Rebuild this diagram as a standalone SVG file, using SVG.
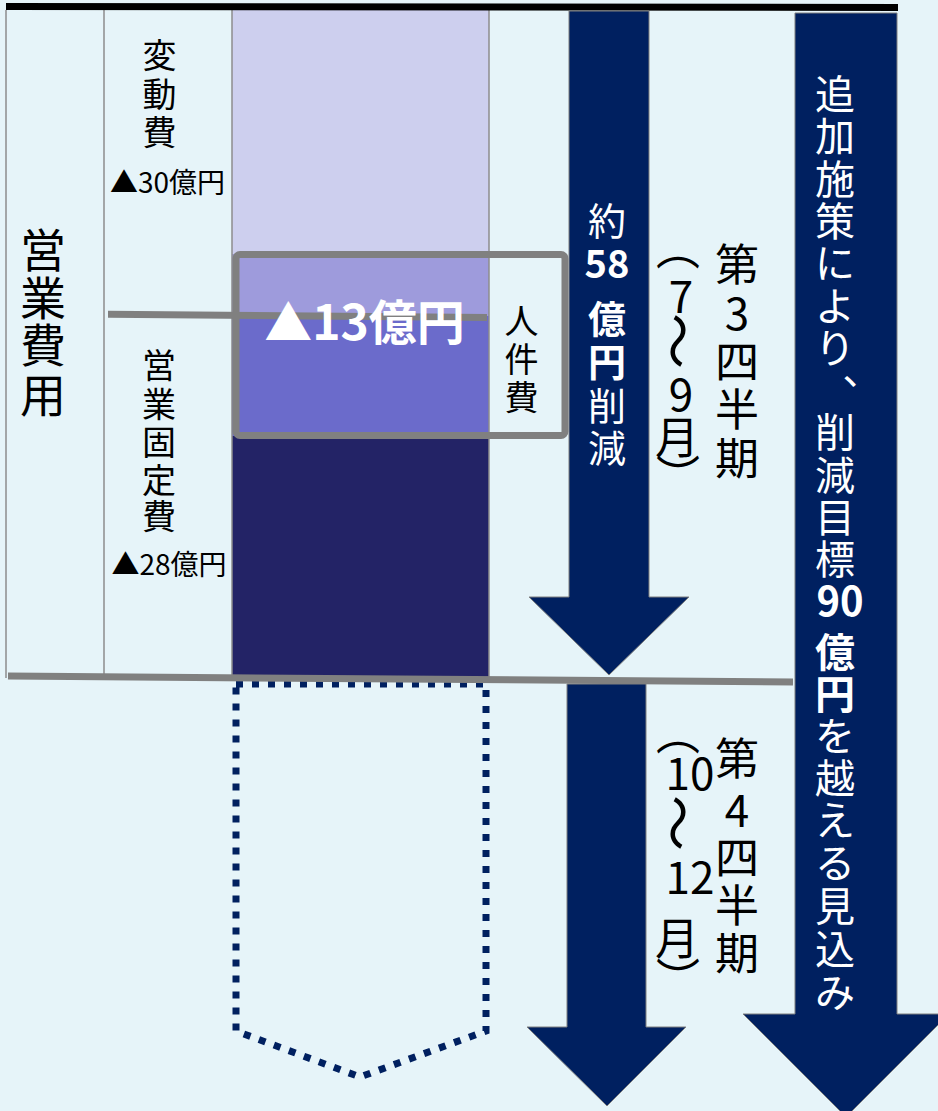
<svg xmlns="http://www.w3.org/2000/svg" width="938" height="1111" viewBox="0 0 938 1111">
<style>
.t{font-family:"Noto Sans CJK JP","Noto Sans CJK SC",sans-serif;text-anchor:middle;dominant-baseline:central}
.b{fill:#000}
.w{fill:#fff}
.bd{font-weight:bold}
.thin{stroke:#8c8c8c;stroke-width:1.5;fill:none}
.gray{stroke:#808080;stroke-width:7;fill:none}
.arrow{fill:#002060;stroke:#7f7f7f;stroke-width:1}
</style>
<rect width="938" height="1111" fill="#E6F4F9"/>

<g id="bar">
<rect x="232" y="10" width="257" height="244" fill="#CDCFEE"/>
<rect x="232" y="254" width="257" height="62" fill="#9E9BDC"/>
<rect x="232" y="316" width="257" height="120" fill="#6B6BCB"/>
<rect x="232" y="436" width="257" height="242" fill="#232366"/>
</g>

<g id="table-lines">
<line class="thin" x1="6" y1="10" x2="6" y2="678"/>
<line class="thin" x1="104" y1="10" x2="104" y2="676"/>
<line class="thin" x1="232" y1="10" x2="232" y2="677"/>
<line class="thin" x1="489" y1="10" x2="489" y2="677"/>
</g>

<g id="dotted-block">
<path d="M236,684 L486,684 L486,1031 L360,1077 L236,1031 Z" fill="none" stroke="#002060" stroke-width="7" stroke-dasharray="7 9"/>
</g>

<g id="connectors">
<line class="gray" x1="108" y1="314.3" x2="487" y2="317.5"/>
<line class="gray" x1="8" y1="676" x2="793" y2="682"/>
<rect class="gray" x="236" y="254.5" width="329" height="181" rx="4"/>
<line x1="6" y1="6.5" x2="898" y2="7.5" stroke="#000" stroke-width="7"/>
</g>

<g id="arrow-q3">
<path class="arrow" d="M569,11 L649,11 L649,597 L689,597 L609,675 L529,597 L569,597 Z"/>
<text class="t w" font-size="38"><tspan x="607" y="217.5">約</tspan><tspan class="bd" x="607" y="261">58</tspan><tspan class="bd" x="607" y="315.5">億</tspan><tspan class="bd" x="607" y="359">円</tspan><tspan x="607" y="402.5">削</tspan><tspan x="607" y="444.5">減</tspan></text>
</g>

<g id="arrow-q4">
<path class="arrow" d="M567,684 L646,684 L646,1027 L686,1027 L607,1106 L527,1027 L567,1027 Z"/>
</g>

<g id="arrow-total">
<path class="arrow" d="M795,13 L897,13 L897,1014 L949,1014 L846,1117 L743,1014 L795,1014 Z"/>
<text class="t w" font-size="40"><tspan x="835" y="92">追</tspan><tspan x="835" y="134">加</tspan><tspan x="835" y="177">施</tspan><tspan x="835" y="219">策</tspan><tspan x="835" y="261">に</tspan><tspan x="835" y="304">よ</tspan><tspan x="835" y="346">り</tspan><tspan x="838" y="392">︑</tspan><tspan x="835" y="430">削</tspan><tspan x="835" y="473">減</tspan><tspan x="835" y="515">目</tspan><tspan x="835" y="557">標</tspan><tspan class="bd" x="840" y="599">90</tspan><tspan class="bd" x="835" y="650">億</tspan><tspan class="bd" x="835" y="692">円</tspan><tspan x="835" y="734">を</tspan><tspan x="835" y="776">越</tspan><tspan x="835" y="818">え</tspan><tspan x="835" y="861">る</tspan><tspan x="835" y="904">見</tspan><tspan x="835" y="947">込</tspan><tspan x="835" y="990">み</tspan></text>
</g>

<g id="label-eigyohiyo">
<text class="t b" font-size="46"><tspan x="43" y="247">営</tspan><tspan x="43" y="295">業</tspan><tspan x="43" y="341.5">費</tspan><tspan x="43" y="392">用</tspan></text>
</g>

<g id="label-hendohi">
<text class="t b" font-size="34"><tspan x="159.5" y="52.5">変</tspan><tspan x="159.5" y="92">動</tspan><tspan x="159.5" y="130">費</tspan></text>
<text x="167.5" y="193" font-size="28" font-family="Noto Sans CJK JP, sans-serif" text-anchor="middle" fill="#000">▲30億円</text>
</g>

<g id="label-koteihi">
<text class="t b" font-size="34"><tspan x="159" y="363">営</tspan><tspan x="159" y="402">業</tspan><tspan x="159" y="440">固</tspan><tspan x="159" y="477.5">定</tspan><tspan x="159" y="514">費</tspan></text>
<text x="169" y="575" font-size="28" font-family="Noto Sans CJK JP, sans-serif" text-anchor="middle" fill="#000">▲28億円</text>
</g>

<g id="label-13">
<text x="364.5" y="340" font-size="48" font-weight="bold" font-family="Noto Sans CJK JP, sans-serif" text-anchor="middle" fill="#fff">▲13億円</text>
</g>

<g id="label-jinkenhi">
<text class="t b" font-size="34"><tspan x="521.5" y="319">人</tspan><tspan x="521.5" y="356.5">件</tspan><tspan x="521.5" y="395">費</tspan></text>
</g>

<g id="label-q3">
<text class="t b" font-size="44"><tspan x="737" y="262">第</tspan><tspan x="737" y="311">3</tspan><tspan x="737" y="359">四</tspan><tspan x="737" y="407">半</tspan><tspan x="737" y="456">期</tspan></text>
<text class="t b" font-size="44"><tspan x="678" y="246">︵</tspan><tspan x="681" y="294">7</tspan><tspan x="681" y="392">9</tspan><tspan x="677" y="435">月</tspan><tspan x="678" y="474">︶</tspan></text>
<text class="t b" font-size="56" transform="translate(681,341) rotate(90)">～</text>
</g>

<g id="label-q4">
<text class="t b" font-size="44"><tspan x="737" y="756">第</tspan><tspan x="737" y="808">4</tspan><tspan x="737" y="855">四</tspan><tspan x="737" y="903">半</tspan><tspan x="737" y="951">期</tspan></text>
<text class="t b" font-size="44"><tspan x="678" y="731">︵</tspan><tspan x="690" y="770.5">10</tspan><tspan x="690" y="874.5">12</tspan><tspan x="677" y="936">月</tspan><tspan x="678" y="977">︶</tspan></text>
<text class="t b" font-size="56" transform="translate(681,823) rotate(90)">～</text>
</g>
</svg>
